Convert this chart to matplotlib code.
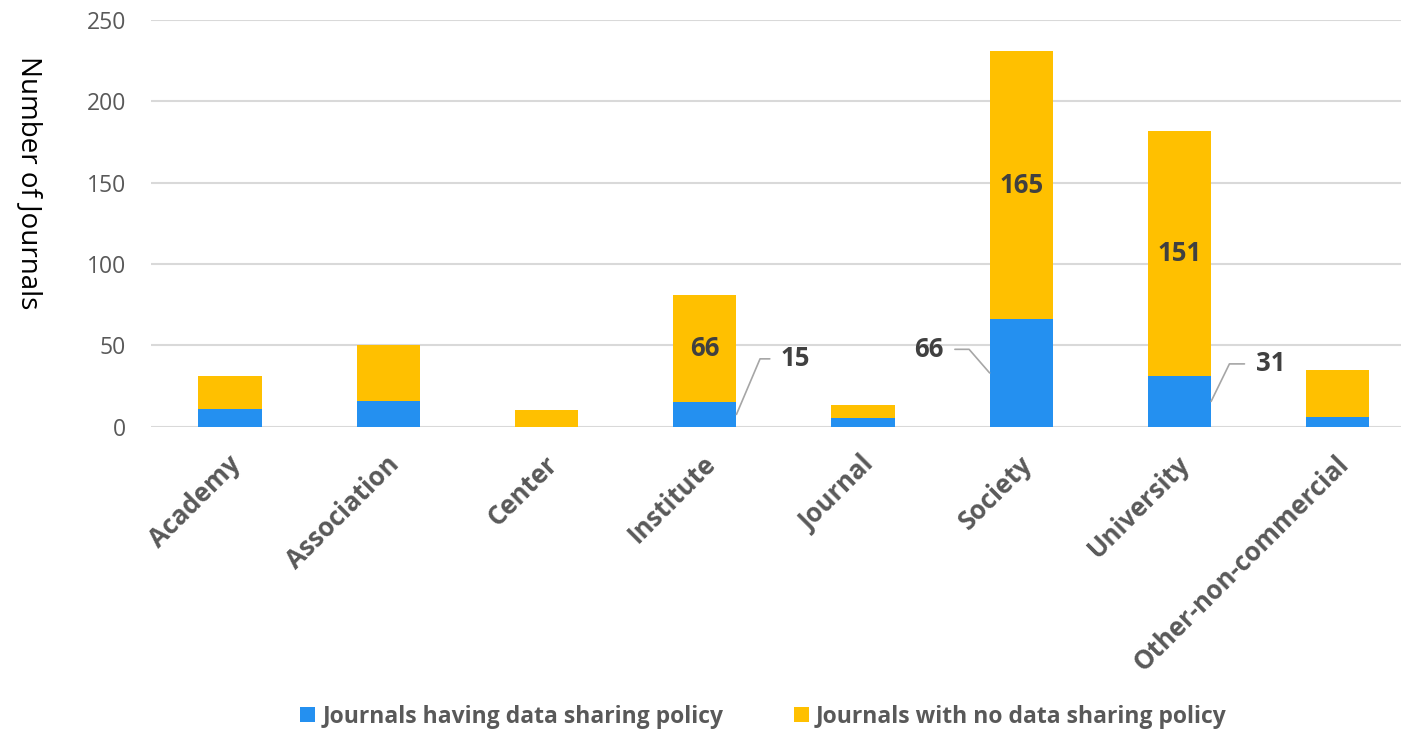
import matplotlib
matplotlib.use('Agg')
import matplotlib.pyplot as plt
import matplotlib.transforms as mtransforms
import numpy as np

categories = ['Academy', 'Association', 'Center', 'Institute', 'Journal',
              'Society', 'University', 'Other-non-commercial']
with_policy = [11, 16, 0, 15, 5, 66, 31, 6]
no_policy = [20, 34, 10, 66, 8, 165, 151, 29]
yticks = [0, 50, 100, 150, 200, 250]

blue = '#2490F0'
yellow = '#FFC000'
grey_txt = '#595959'
dark_txt = '#404040'

plt.rcParams['font.family'] = ['Open Sans', 'DejaVu Sans']

fig = plt.figure(figsize=(14.01, 7.33), dpi=100)
ax = fig.add_axes([0.1078, 0.418, 0.8922, 0.5547])

x = np.arange(len(categories))
w = 0.4
ax.bar(x, with_policy, w, color=blue, label='Journals having data sharing policy', zorder=3)
ax.bar(x, no_policy, w, bottom=with_policy, color=yellow,
       label='Journals with no data sharing policy', zorder=3)

ax.set_xlim(-0.5, 7.4)
ax.set_ylim(0, 250)
ax.set_yticks(yticks)
ax.yaxis.grid(True, color='#D9D9D9', linewidth=1.5, zorder=0)
for s in ax.spines.values():
    s.set_visible(False)
ax.tick_params(axis='both', length=0)
ax.tick_params(axis='y', labelsize=16.5, labelcolor=grey_txt, pad=18)
ax.set_xticks(x)
ax.set_xticklabels(categories, rotation=45, ha='right', va='center',
                   rotation_mode='anchor', fontsize=18.5, fontweight='bold',
                   color=grey_txt)
ax.tick_params(axis='x', pad=24)
# nudge category labels a little to the right
shift = mtransforms.ScaledTranslation(5 / 72, 0, fig.dpi_scale_trans)
for lab in ax.get_xticklabels():
    lab.set_transform(lab.get_transform() + shift)

ax.set_ylabel('Number of Journals', rotation=270, fontsize=20, color='black',
              va='bottom')
ax.yaxis.set_label_coords(-0.109, 0.6)

# labels inside the yellow segments
for i in [3, 5, 6]:
    ax.text(x[i], with_policy[i] + no_policy[i] / 2, str(no_policy[i]),
            ha='center', va='center', fontsize=18.5, fontweight='bold',
            color=dark_txt, zorder=4)

# blue labels with leader lines
leaders = [(3, 1, (32, 40), 67), (5, -1, (-33, 17), 131), (6, 1, (32, 27), 64)]
for i, side, off, ang in leaders:
    ha = 'left' if side > 0 else 'right'
    ax.annotate(str(with_policy[i]), xy=(x[i] + side * w / 2, with_policy[i] / 2),
                xytext=off, textcoords='offset points', ha=ha, va='center',
                fontsize=18.5, fontweight='bold', color=dark_txt,
                arrowprops=dict(arrowstyle='-', color='#A6A6A6', lw=1.2,
                                shrinkA=6, shrinkB=0,
                                connectionstyle='angle,angleA=0,angleB=%d,rad=0' % ang))

leg = fig.legend(loc='center', bbox_to_anchor=(0.545, 0.022), ncol=2, frameon=False,
                 fontsize=16.5, handlelength=0.65, handleheight=0.65, handletextpad=0.3,
                 columnspacing=3.1)
for t in leg.get_texts():
    t.set_fontweight('bold')
    t.set_color(grey_txt)

fig.savefig('out.png', dpi=100)
